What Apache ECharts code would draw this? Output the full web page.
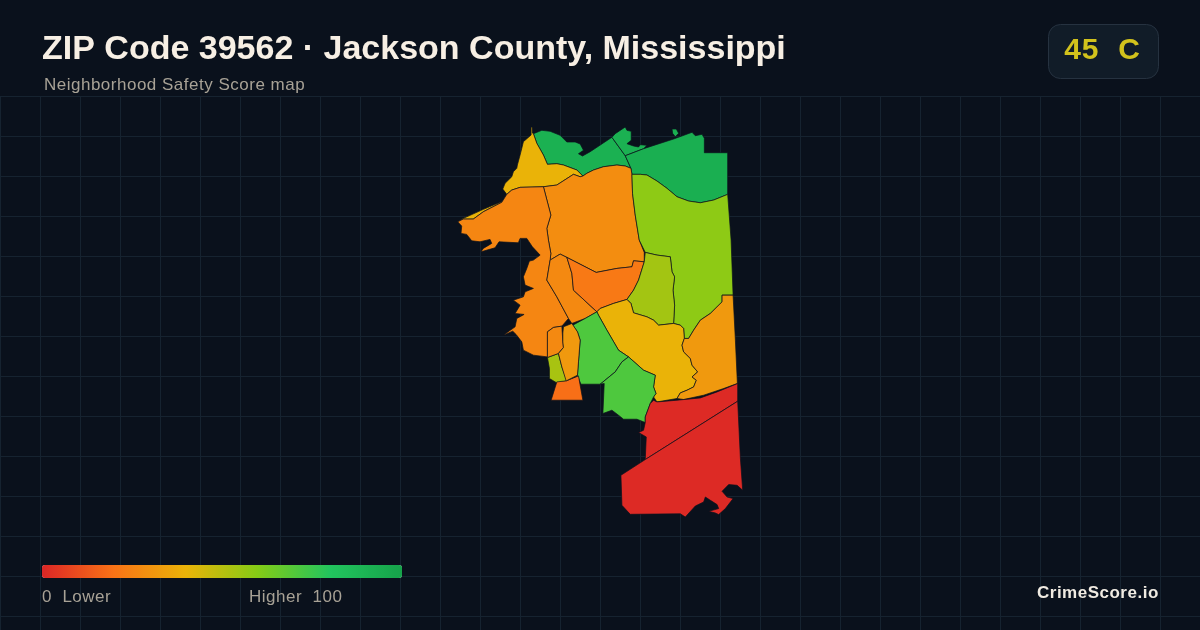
<!DOCTYPE html>
<html><head><meta charset="utf-8">
<style>html,body{margin:0;padding:0;background:#0a111c}#c{width:1200px;height:630px}</style>
<script src="https://cdn.jsdelivr.net/npm/echarts@6/dist/echarts.min.js"></script>
</head><body><div id="c"></div>
<script>
const titleText = "ZIP Code 39562 · Jackson County, Mississippi";
const subtitleText = "Neighborhood Safety Score map";
const gradeText = "45  C";
const brandText = "CrimeScore.io";
const lowLabel = "0  Lower";
const highLabel = "Higher  100";
const scaleColors = ["#dc2626","#f97316","#eab308","#84cc16","#22c55e","#16a34a"];
const regionNames = ["NW Bayou","North Point","NE Woods","North Shore","North Central","West Bay","Inner Strip","Central","East Lime","East Olive","Mid Yellow","SE Orange","Green West","Green South","Red North","Red South","Small Lime","Triangle","Small West","Narrow"];
const regionScores = [92,92,93,40,28,26,27,22,58,54,40,32,71,71,1,1,53,19,27,32];
const regionOutlines = [
 [[[533.3,133.7],[541.7,130.3],[550,131.3],[560,135.3],[566.7,142],[575,142],[580,144],[583.3,150.3],[578.3,153.7],[582.3,156],[590,151.7],[611.7,137.3],[625,155.7],[630.7,168.3],[625,166],[616.7,165],[603.3,166.7],[593.3,170],[586.7,173.3],[582.7,176],[576.7,170],[563.3,165],[556.7,163.7],[547.3,164.3],[543.3,155],[536.7,143.3]]],
 [[[611.7,137.3],[615,133.7],[625,127],[626.7,130.3],[631,131.3],[631,140.3],[626.7,143.7],[633.3,146],[638.3,147],[640,144.7],[646.7,145.3],[643.3,148.7],[625,155.7]]],
 [[[625,155.7],[643.3,148.7],[673.3,139],[691.7,132.3],[695,135.7],[701.7,134.3],[704,138.3],[704,152.7],[727.3,152.7],[727.3,194.3],[713.3,200],[700,202.7],[688.3,201],[676.7,196.7],[666.7,188.3],[656.7,181],[646.7,175],[640,174.3],[631.7,174.3],[630.7,168.3]],[[671.7,129],[676,129],[678.3,133.3],[675,136.7],[672.3,133.3]]],
 [[[530.9,127],[532,127],[532.3,133],[533.3,133.7],[536.7,143.3],[543.3,155],[547.3,164.3],[556.7,163.7],[563.3,165],[576.7,170],[582.7,176],[580,176.7],[573.3,174.3],[556.7,185],[543.3,186.7],[520,187.3],[511.7,190],[506.7,194.3],[502.7,189],[505,183.3],[511.7,176.7],[513.3,171.7],[516.7,168.3],[517.3,165],[520,155],[521.7,148.3],[523.3,141.7],[531,135]],[[457.7,221.7],[463.3,218.3],[483.3,209.3],[503.3,201],[501.7,202.3],[483.3,211.7],[473.3,219],[463.3,219]]],
 [[[582.7,176],[586.7,173.3],[593.3,170],[603.3,166.7],[616.7,165],[625,166],[630.7,168.3],[631.7,174.3],[632.3,193.3],[635,215],[639,240],[644,252.3],[644,261.7],[633.3,260.7],[631.7,266.7],[616.7,268.3],[596,272.3],[566.7,257.3],[560,254],[550,260],[550.7,253.3],[548.3,240],[546.7,228.3],[550.7,215],[543.3,186.7],[556.7,185],[573.3,174.3],[580,176.7]]],
 [[[457.7,221.7],[461.7,226],[461,233.3],[466.7,234.3],[471.7,240.7],[480,241.7],[490,239.3],[491.7,243.3],[483.3,248.3],[481,251.7],[495,247.7],[499,241.7],[518.3,242.7],[520,238.3],[526.7,238.3],[532.3,246.7],[540,255],[533.3,260],[529.3,261],[526.7,268.3],[523.3,276.7],[525,285],[533.3,288.3],[525,291.7],[523.3,296.7],[513.3,300],[520,305],[515,313.3],[524,314.3],[516.7,318.3],[515,326.7],[503.3,335],[512.7,331],[516,334.3],[521.7,341.7],[523.3,350],[533.3,355],[547.3,356.7],[547.3,331.7],[553.3,327.3],[561.7,326],[568.3,318.3],[556.7,296.7],[546.7,280],[550,260],[550.7,253.3],[548.3,240],[546.7,228.3],[550.7,215],[543.3,186.7],[520,187.3],[511.7,190],[506.7,194.3],[501.7,202.3],[483.3,211.7],[473.3,219],[463.3,219]]],
 [[[550,260],[560,254],[566.7,257.3],[571.7,273.3],[573.3,290],[596.7,311.7],[585,318.3],[571.7,323.3],[568.3,318.3],[556.7,296.7],[546.7,280]]],
 [[[566.7,257.3],[596,272.3],[616.7,268.3],[631.7,266.7],[633.3,260.7],[644,261.7],[638.3,280],[633.3,290],[626.7,299.3],[613.3,303.3],[600,308.3],[596.7,311.7],[573.3,290],[571.7,273.3]]],
 [[[631.7,174.3],[640,174.3],[646.7,175],[656.7,181],[666.7,188.3],[676.7,196.7],[688.3,201],[700,202.7],[713.3,200],[727.3,194.3],[730.7,240],[732.7,295],[721.7,295],[721.7,301.7],[710,313.3],[700,320],[693.3,330],[688.3,338.3],[684,338.3],[683.3,328.3],[680,325],[673.3,323.3],[674.3,305],[672.7,290],[674.3,276.7],[671.7,271.7],[670,256.7],[656.7,255],[645,252.3],[639,240],[635,215],[632.3,193.3]]],
 [[[645,252.3],[656.7,255],[670,256.7],[671.7,271.7],[674.3,276.7],[672.7,290],[674.3,305],[673.3,323.3],[658.3,325],[653.3,320],[646.7,316.7],[633.3,312.7],[630.7,303.3],[626.7,299.3],[633.3,290],[638.3,280],[644,261.7]]],
 [[[596.7,311.7],[600,308.3],[613.3,303.3],[626.7,299.3],[630.7,303.3],[633.3,312.7],[646.7,316.7],[653.3,320],[658.3,325],[673.3,323.3],[680,325],[683.3,328.3],[684,338.3],[681.7,345],[683.3,351.7],[690,358.3],[691.7,365],[697.3,371.7],[691.7,376.7],[696,380],[693.3,386.7],[686.7,390],[680,392.7],[676.7,398.3],[656.7,401.7],[653.3,396.7],[655.7,393.3],[653.3,386.7],[655,375],[643.3,370],[628.3,356.7],[618.3,350],[606.7,330],[598.3,315]]],
 [[[684,338.3],[688.3,338.3],[693.3,330],[700,320],[710,313.3],[721.7,301.7],[721.7,295],[732.7,295],[735,340],[737,383.3],[723.3,388.3],[703.3,395],[683.3,399.3],[676.7,398.3],[680,392.7],[686.7,390],[693.3,386.7],[696,380],[691.7,376.7],[697.3,371.7],[691.7,365],[690,358.3],[683.3,351.7],[681.7,345]]],
 [[[596.7,311.7],[598.3,315],[606.7,330],[618.3,350],[628.3,356.7],[621.7,361.7],[615,371.7],[600,384],[580.7,384],[577.3,375],[578.3,361.7],[580,340],[577.3,331.7],[572.7,325],[585,318.3]]],
 [[[628.3,356.7],[643.3,370],[655,375],[653.3,386.7],[655.7,393.3],[653.3,396.7],[650,403.3],[645,416.7],[645,422.3],[636.7,419],[623.3,419],[618.3,415],[611.7,410],[602.7,413.3],[604,383.3],[600,384],[615,371.7],[621.7,361.7]]],
 [[[737.3,383.3],[737.3,401],[645,459.3],[646,436.7],[638.3,432.3],[643.3,430],[645,422.3],[645,416.7],[650,403.3],[653.3,400],[656.7,401.7],[676.7,400],[700,397.7],[716.7,391.7]]],
 [[[737.3,401],[740,458],[742.3,490],[736.7,485],[728.3,484.3],[721.7,491],[726.7,496.7],[732.7,498.3],[725,508.3],[718.3,514.3],[715,512.7],[708.3,511],[718.3,508.3],[716.7,504.3],[710,500],[705,496.7],[703.3,501.7],[695,505.7],[685,516.7],[680,513.5],[630,514],[621.7,505],[620.7,475],[645,459.3]]],
 [[[547.3,357.3],[558.3,353.3],[561.7,366.7],[566.7,380.7],[556.7,382.7],[549.3,378.3],[549.3,368.3]]],
 [[[556.7,381.7],[566,380.7],[578.3,375.7],[582.7,400],[551,400]]],
 [[[547.3,331.7],[553.3,327.3],[561.7,326],[562.7,341.7],[563.3,347.3],[558.3,353.3],[547.3,357.3]]],
 [[[563.3,326.7],[571.7,323.3],[577.3,331.7],[580,340],[578.3,361.7],[577.3,375],[566,380.7],[561.7,366.7],[558.3,353.3],[563.3,347.3],[562.7,341.7],[562.7,333]]]
];
const letterSpacingByText = {[subtitleText]:"0.5px",[lowLabel]:"0.5px",[highLabel]:"0.5px",[brandText]:"0.5px",[gradeText]:"1px"};

const plainFillText = CanvasRenderingContext2D.prototype.fillText;
CanvasRenderingContext2D.prototype.fillText = function(text,x,y,maxWidth){
  this.letterSpacing = letterSpacingByText[text] || "0px";
  if (maxWidth === undefined) plainFillText.call(this,text,x,y); else plainFillText.call(this,text,x,y,maxWidth);
  this.letterSpacing = "0px";
};

const geoJson = {type:"FeatureCollection",features:regionNames.map((name,i)=>({
  type:"Feature",properties:{name},
  geometry:{type:"MultiPolygon",coordinates:regionOutlines[i].map(ring=>[ring.map(p=>[p[0],-p[1]])])}
}))};
echarts.registerMap("zip39562",geoJson);
const chart = echarts.init(document.getElementById("c"),null,{renderer:"canvas"});
const FONT = '"Liberation Sans", Arial, sans-serif';
chart.setOption({
  animation:false,
  backgroundColor:"#0a111c",
  title:[
    {text:titleText,left:42,top:33,padding:0,textStyle:{color:"#f7efe4",fontFamily:FONT,fontWeight:"bold",fontSize:34}},
    {text:subtitleText,left:44,top:77,padding:0,textStyle:{color:"#a8a296",fontFamily:FONT,fontWeight:"normal",fontSize:17}}
  ],
  grid:{left:0,top:96,width:1200,height:534,show:false},
  xAxis:{type:"value",min:0,max:1200,interval:40,axisLine:{show:false},axisTick:{show:false},axisLabel:{show:false},splitLine:{show:true,lineStyle:{color:"#162330",width:1}}},
  yAxis:{type:"value",inverse:true,min:0,max:534,interval:40,axisLine:{show:false},axisTick:{show:false},axisLabel:{show:false},splitLine:{show:true,lineStyle:{color:"#162330",width:1}}},
  visualMap:{type:"continuous",min:0,max:100,orient:"horizontal",left:42,top:565,itemWidth:13,itemHeight:360,padding:0,borderRadius:0,text:null,showLabel:false,calculable:false,realtime:false,hoverLink:false,inRange:{color:scaleColors},seriesIndex:0},
  series:[{type:"map",map:"zip39562",aspectScale:1,left:457.7,top:127,width:285,height:390,roam:false,silent:true,selectedMode:false,
    label:{show:false},emphasis:{disabled:true},
    itemStyle:{borderColor:"#0b111c",borderWidth:0.7},
    data:regionNames.map((name,i)=>({name,value:regionScores[i]}))}],
  graphic:{elements:[
    {type:"rect",z:100,shape:{x:1048.5,y:24.5,width:110,height:54,r:12},style:{fill:"#111c28",stroke:"#263240",lineWidth:1}},
    {type:"text",z:101,x:1102.5,y:51,style:{text:gradeText,fill:"#d2c21c",font:'bold 30px "Liberation Sans"',textAlign:"center",textVerticalAlign:"middle"}},
    {type:"text",z:101,x:42,y:597.5,style:{text:lowLabel,fill:"#a8a296",font:'17px "Liberation Sans"',textVerticalAlign:"middle"}},
    {type:"text",z:101,x:249,y:597.5,style:{text:highLabel,fill:"#a8a296",font:'17px "Liberation Sans"',textVerticalAlign:"middle"}},
    {type:"text",z:101,x:1037,y:593,style:{text:brandText,fill:"#f0ebe2",font:'bold 17px "Liberation Sans"',textVerticalAlign:"middle"}}
  ]}
});
</script></body></html>
